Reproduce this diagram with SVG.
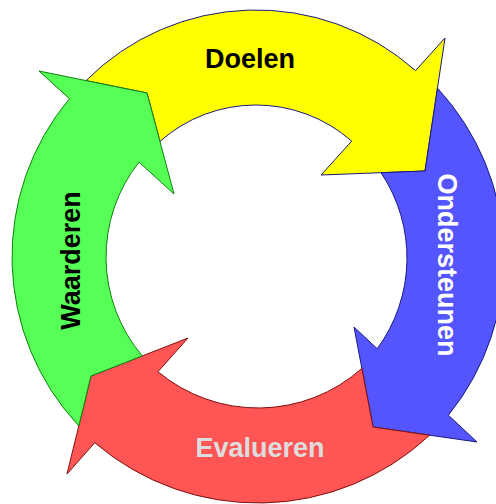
<svg xmlns="http://www.w3.org/2000/svg" width="496" height="504" viewBox="0 0 496 504">
  <style>
    .arrow { stroke-width: 1; stroke-linejoin: miter; }
    .label { font-family: "Liberation Sans", Arial, sans-serif; font-weight: bold; font-size: 27px; text-anchor: middle; }
  </style>
  <rect width="496" height="504" fill="#ffffff"/>

  <!-- Four curved arrows forming a clockwise cycle; each tail is cut along the previous arrowhead -->
  <g id="doelen">
    <path class="arrow" fill="#ffff00" stroke="#1a1a80"
          d="M 86.0 80.6 A 240 240 0 0 1 415.5 70.6 L 445 38 L 425 171 L 321 175 L 351.7 141.1 A 145 145 0 0 0 159.9 141.4 L 147 93 Z"/>
    <text class="label" x="250" y="68" fill="#000000">Doelen</text>
  </g>

  <g id="ondersteunen">
    <path class="arrow" fill="#5555ff" stroke="#1a1a80"
          d="M 437.5 88.2 A 250 250 0 0 1 448.4 415.2 L 477 442 L 373 427 L 354 327 L 377.2 348.7 A 153 153 0 0 0 381.0 172.7 L 425 171 Z"/>
    <text class="label" transform="translate(438 265) rotate(90)" x="0" y="0" fill="#ffffff">Ondersteunen</text>
  </g>

  <g id="evalueren">
    <path class="arrow" fill="#ff5555" stroke="#801010"
          d="M 429.6 435.2 A 251 251 0 0 1 94.8 442.7 L 67 474 L 91 376 L 188 338 L 158.0 371.7 A 156 156 0 0 0 361.9 368.4 L 373 427 Z"/>
    <text class="label" x="260" y="457" fill="#dddddd">Evalueren</text>
  </g>

  <g id="waarderen">
    <path class="arrow" fill="#55ff55" stroke="#108010"
          d="M 78.8 425.9 A 247 247 0 0 1 69.4 98.7 L 39 71 L 147 93 L 174 194 L 139.0 162.1 A 153 153 0 0 0 142.3 355.9 L 91 376 Z"/>
    <text class="label" transform="translate(80 260.5) rotate(-90)" x="0" y="0" fill="#000000">Waarderen</text>
  </g>
</svg>
